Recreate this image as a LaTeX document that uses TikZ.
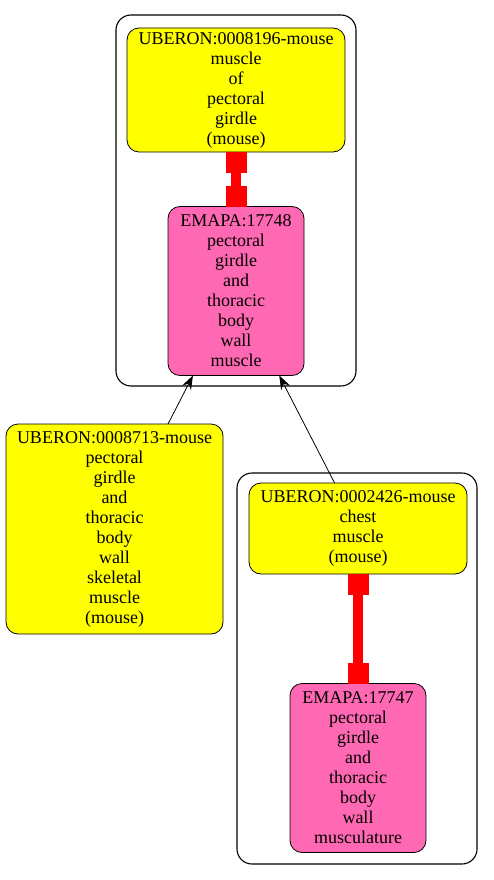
\documentclass[tikz,border=0pt]{standalone}
\usepackage{fontspec}
\setmainfont{Liberation Serif}
\usepackage{tikz}
\usetikzlibrary{shapes,arrows,arrows.meta,positioning}

\definecolor{uberonyellow}{RGB}{255,255,0}
\definecolor{emapapink}{RGB}{255,105,180}

\begin{document}
\begin{tikzpicture}[x=1pt,y=-1pt]
\useasboundingbox (0,0) rectangle (493,880);
\tikzstyle{cluster} = [draw, rounded corners=15pt, line width=1.1pt]
\tikzstyle{term} = [draw, shape=rectangle, rounded corners=12pt, line width=0.8pt, align=center, inner sep=0pt, outer sep=0pt, font=\fontsize{18}{20}\selectfont]
\tikzstyle{uberon} = [term, fill=uberonyellow, minimum width=218pt]
\tikzstyle{emapa} = [term, fill=emapapink, minimum width=136pt, minimum height=169pt]
\tikzstyle{equiv} = [draw=red, line width=10pt, {Square[length=21pt,width=21pt]}-{Square[length=21pt,width=21pt]}]
\tikzstyle{isa} = [draw, line width=0.8pt, -{Stealth[length=14pt,width=10pt,inset=5pt]}]
%Clusters
\draw[cluster] (116,15) rectangle (356,386);
\draw[cluster] (237,473) rectangle (477,864);
%Creating Terms
\node at (236,90) [uberon, minimum height=124pt] (u8196) {UBERON:0008196-mouse\\muscle\\of\\pectoral\\girdle\\(mouse)};
\node at (236,291) [emapa] (e17748) {EMAPA:17748\\pectoral\\girdle\\and\\thoracic\\body\\wall\\muscle};
\node at (114.5,529) [uberon, minimum width=217pt, minimum height=210pt] (u8713) {UBERON:0008713-mouse\\pectoral\\girdle\\and\\thoracic\\body\\wall\\skeletal\\muscle\\(mouse)};
\node at (358,528.5) [uberon, minimum height=91pt] (u2426) {UBERON:0002426-mouse\\chest\\muscle\\(mouse)};
\node at (358,768) [emapa] (e17747) {EMAPA:17747\\pectoral\\girdle\\and\\thoracic\\body\\wall\\musculature};
%Connections
\draw[equiv] (u8196) -- (e17748);
\draw[equiv] (u2426) -- (e17747);
\draw[isa] (u8713) -- (e17748);
\draw[isa] (u2426) -- (e17748);
\end{tikzpicture}
\end{document}
